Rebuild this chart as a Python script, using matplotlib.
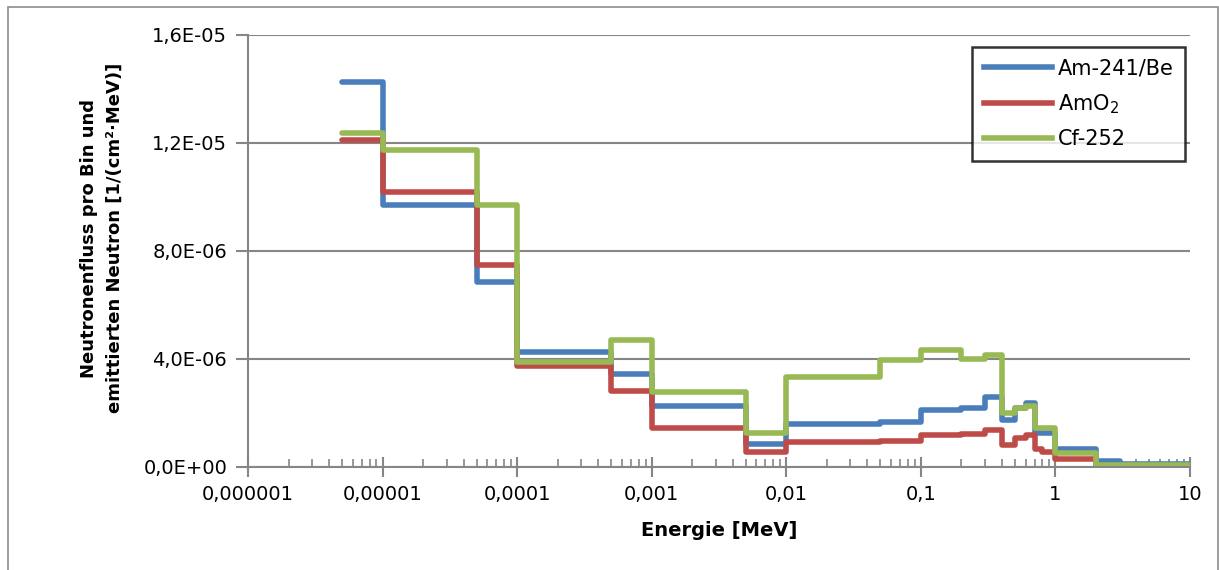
import matplotlib.pyplot as plt
from matplotlib.patches import Rectangle
from matplotlib.ticker import LogLocator, NullFormatter

# bin edges in MeV
edges = [5e-6, 1e-5, 5e-5, 1e-4, 5e-4, 1e-3, 5e-3, 1e-2, 5e-2, 0.1, 0.2,
         0.3, 0.4, 0.5, 0.6, 0.7, 0.8, 1, 2, 3, 10]

# flux per bin, in units of 1e-6
am_be = [14.27, 9.72, 6.85, 4.25, 3.44, 2.26, 0.84, 1.60, 1.68, 2.11,
         2.18, 2.60, 1.74, 2.17, 2.36, 1.25, 1.25, 0.66, 0.23, 0.10]
amo2 = [12.11, 10.20, 7.48, 3.75, 2.83, 1.43, 0.57, 0.91, 0.97, 1.19,
        1.22, 1.37, 0.81, 1.06, 1.19, 0.65, 0.57, 0.28, 0.05, 0.0]
cf252 = [12.36, 11.74, 9.70, 3.90, 4.70, 2.79, 1.25, 3.35, 3.96, 4.33,
         3.99, 4.15, 1.99, 2.17, 2.26, 1.43, 1.43, 0.53, 0.07, 0.07]

series_names = ['Am-241/Be', 'AmO$_2$', 'Cf-252']
colors = ['#4A7EBB', '#BE4B48', '#98B954']

xticks = [1e-6, 1e-5, 1e-4, 1e-3, 1e-2, 1e-1, 1, 10]
xtick_labels = ['0,000001', '0,00001', '0,0001', '0,001', '0,01', '0,1', '1', '10']
yticks = [0, 4e-6, 8e-6, 1.2e-5, 1.6e-5]
ytick_labels = ['0,0E+00', '4,0E-06', '8,0E-06', '1,2E-05', '1,6E-05']

W, H = 1219, 570
fig = plt.figure(figsize=(W / 100, H / 100), dpi=100)
fig.patches.append(Rectangle((8 / W, -0.02), 1 - 9 / W, 1 - 7 / H + 0.02,
                             transform=fig.transFigure, fill=False,
                             edgecolor='#8c8c8c', lw=1.2))

ax = fig.add_axes([248 / W, 1 - 467 / H, 942 / W, 432 / H])

for vals, name, c in zip([am_be, amo2, cf252], series_names, colors):
    ax.stairs([v * 1e-6 for v in vals], edges, baseline=None, color=c,
              lw=4, label=name, joinstyle='round', capstyle='round')

ax.set_xscale('log')
ax.set_xlim(1e-6, 10)
ax.set_ylim(0, 1.6e-5)

ax.set_xticks(xticks)
ax.set_xticklabels(xtick_labels, fontsize=14)
ax.xaxis.set_minor_locator(LogLocator(base=10, subs=range(2, 10), numticks=20))
ax.xaxis.set_minor_formatter(NullFormatter())
ax.tick_params(axis='x', which='major', direction='inout', length=14,
               width=1.5, color='#868686', pad=6)
ax.tick_params(axis='x', which='minor', direction='in', length=6,
               width=1.2, color='#868686')

ax.set_yticks(yticks)
ax.set_yticklabels(ytick_labels, fontsize=14)
ax.tick_params(axis='y', direction='out', length=9, width=1.5,
               color='#868686', pad=6)

ax.grid(axis='y', color='#868686', lw=1.5)
ax.set_axisbelow(True)
for s in ['top', 'right']:
    ax.spines[s].set_visible(False)
for s in ['left', 'bottom']:
    ax.spines[s].set_color('#868686')
    ax.spines[s].set_linewidth(1.5)

ax.set_xlabel('Energie [MeV]', fontsize=14, fontweight='bold', labelpad=12)
fig.text(102 / W, 1 - 238 / H,
         'Neutronenfluss pro Bin und\nemittierten Neutron [1/(cm²·MeV)]',
         rotation=90, ha='center', va='center', fontsize=13,
         fontweight='bold', linespacing=1.55)

leg = ax.legend(loc='upper right', bbox_to_anchor=(1185 / W, 1 - 47 / H),
                bbox_transform=fig.transFigure, borderaxespad=0,
                fontsize=15, frameon=True, fancybox=False,
                handlelength=3.3, handletextpad=0.25, borderpad=0.55,
                labelspacing=0.65)
leg.get_frame().set_edgecolor('black')
leg.get_frame().set_linewidth(1.8)

fig.savefig('out.png', dpi=100)
